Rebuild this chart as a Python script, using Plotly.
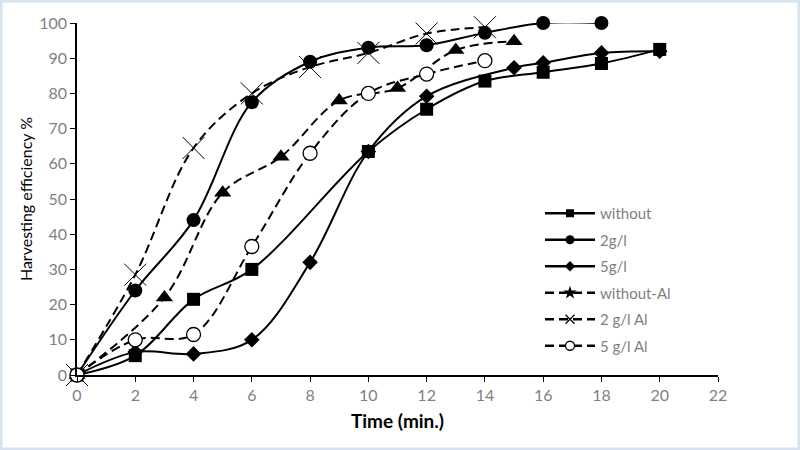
import plotly.graph_objects as go

# ---- data ----
time_without = [0, 2, 4, 6, 10, 12, 14, 16, 18, 20]
eff_without = [0, 5.5, 21.5, 30, 63.5, 75.5, 83.5, 86, 88.5, 92.5]

time_2g = [0, 2, 4, 6, 8, 10, 12, 14, 16, 18]
eff_2g = [0, 24, 44, 77.5, 89, 93, 93.7, 97.2, 100, 100]

time_5g = [0, 2, 4, 6, 8, 10, 12, 15, 16, 18, 20]
eff_5g = [0, 6.5, 6, 10, 32, 63.5, 79.2, 87.3, 88.7, 91.5, 92]

time_woAl = [0, 3, 5, 7, 9, 11, 13, 15]
eff_woAl = [0, 22, 51.8, 62, 78, 81.5, 92.3, 94.8]

time_2gAl = [0, 2, 4, 6, 8, 10, 12, 14]
eff_2gAl = [0, 28.5, 64.5, 80, 87.5, 91.5, 97, 98.8]

time_5gAl = [0, 2, 4, 6, 8, 10, 12, 14]
eff_5gAl = [0, 10, 11.5, 36.5, 63, 80, 85.5, 89.3]

series_names = ["without", "2g/l", "5g/l", "without-Al", "2 g/l Al", "5 g/l Al"]
x_ticks = list(range(0, 23, 2))
y_ticks = list(range(0, 101, 10))

FONT = "Lato"
GRAY = "#7f7f7f"
DASH = "9px,5px"

series = [
    (time_without, eff_without, "solid", dict(symbol="square", size=13, color="black")),
    (time_2g, eff_2g, "solid", dict(symbol="circle", size=14, color="black")),
    (time_5g, eff_5g, "solid", dict(symbol="diamond", size=12, color="black")),
    (time_woAl, eff_woAl, DASH, dict(symbol="triangle-up", size=15, color="black")),
    (time_2gAl, eff_2gAl, DASH, dict(symbol="x-thin-open", size=22, color="black",
                                     line=dict(width=1, color="black"))),
    (time_5gAl, eff_5gAl, DASH, dict(symbol="circle", size=14, color="white",
                                     line=dict(width=1.3, color="black"))),
]

legend_markers = [
    dict(symbol="square", size=8, color="black"),
    dict(symbol="circle", size=9, color="black"),
    dict(symbol="diamond", size=8, color="black"),
    dict(symbol="star", size=10, color="black"),
    dict(symbol="x-thin-open", size=9, color="black", line=dict(width=1.2, color="black")),
    dict(symbol="circle", size=9, color="white", line=dict(width=1.3, color="black")),
]

fig = go.Figure()
for (xs, ys, dash, mk) in series:
    fig.add_trace(go.Scatter(
        x=xs, y=ys, mode="lines+markers",
        line=dict(color="black", width=2, dash=dash, shape="spline", smoothing=1.0),
        marker=mk, showlegend=False, cliponaxis=False, hoverinfo="skip",
    ))

for i, (name, (xs, ys, dash, mk)) in enumerate(zip(series_names, series)):
    fig.add_trace(go.Scatter(
        x=[None], y=[None], mode="lines+markers", name=name,
        line=dict(color="black", width=2.5, dash=dash),
        marker=legend_markers[i], legendgroup=f"g{i}", showlegend=True,
    ))

L, R, T, B = 77, 82, 23, 75
PW, PH = 800 - L - R, 450 - T - B

fig.update_layout(
    width=800, height=450,
    margin=dict(l=L, r=R, t=T, b=B),
    paper_bgcolor="white", plot_bgcolor="white",
    font=dict(family=FONT, size=15, color=GRAY),
    xaxis=dict(
        range=[0, 22], tickvals=x_ticks, ticks="outside", ticklen=5, tickcolor="black",
        showline=True, linecolor="black", linewidth=1.5, showgrid=False, zeroline=False,
        tickfont=dict(family=FONT, size=16, color=GRAY),
        title=dict(text="<b>Time (min.)</b>", font=dict(family=FONT, size=19, color="black"),
                   standoff=12),
    ),
    yaxis=dict(
        range=[0, 100], tickvals=y_ticks, ticks="outside", ticklen=5, tickcolor="black",
        showline=True, linecolor="black", linewidth=1.5, showgrid=False, zeroline=False,
        tickfont=dict(family=FONT, size=16, color=GRAY),
        title=dict(text="Harvesting efficiency %", font=dict(family=FONT, size=16, color="black"),
                   standoff=3),
    ),
    legend=dict(
        x=(540 - L) / PW, y=(450 - B - 197) / PH, xanchor="left", yanchor="top",
        bgcolor="rgba(0,0,0,0)", font=dict(family=FONT, size=15, color=GRAY),
        itemwidth=50, tracegroupgap=4,
    ),
    shapes=[dict(
        type="rect", xref="paper", yref="paper",
        x0=(1 - L) / PW, x1=(799 - L) / PW,
        y0=(450 - B - 449) / PH, y1=(450 - B - 1) / PH,
        line=dict(color="#d6e3ee", width=3), fillcolor="rgba(0,0,0,0)", layer="below",
    )],
)

fig.write_html("out.html", config={"displayModeBar": False},
               post_script="document.body.style.margin='0px';")
